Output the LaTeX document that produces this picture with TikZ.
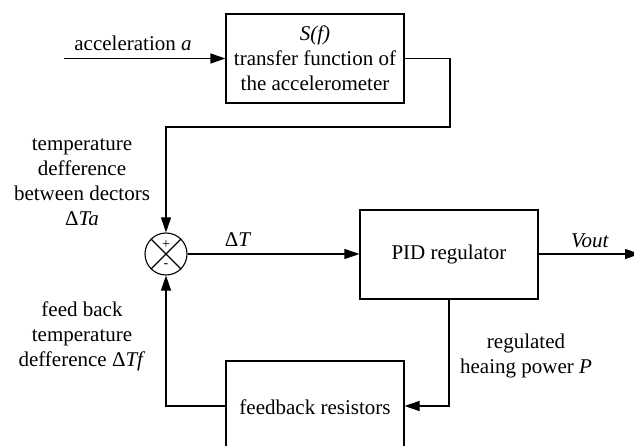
\documentclass[tikz,border=0pt]{standalone}
\usepackage{fontspec}
\setmainfont{Liberation Serif}
\usetikzlibrary{arrows.meta}
\begin{document}
\begin{tikzpicture}[x=1pt,y=-1pt,
  line width=1.1pt,
  font=\fontsize{21}{25}\selectfont,
  blockbox/.style={draw, minimum width=178pt, inner sep=0pt, align=center},
  lbl/.style={inner sep=0pt, align=center},
  arr/.style={-{Triangle[length=15pt,width=10pt]}}]
\useasboundingbox (0,0) rectangle (634,446);
\clip (0,0) rectangle (634,446);
\node[blockbox, minimum height=89pt] (S) at (315,58.5) {\textit{S(f)}\\transfer function of\\the accelerometer};
\node[blockbox, minimum height=89pt] (PID) at (449,254.5) {PID regulator};
\node[blockbox, minimum height=92pt] (FB) at (315,407) {feedback resistors};
\node[draw, circle, minimum size=42pt, inner sep=0pt] (sum) at (166,254) {};
\draw (sum.north east) -- (sum.south west) (sum.north west) -- (sum.south east);
\node[lbl, font=\fontsize{14}{14}\selectfont] (plus) at (166,245) {+};
\node[lbl, font=\fontsize{14}{14}\selectfont] (minus) at (166,266) {-};
% coordinates
\coordinate (in) at (64,58.5);
\coordinate (s1) at (450,58.5);
\coordinate (s2) at (450,127);
\coordinate (s3) at (166,127);
\coordinate (out) at (640,254);
\coordinate (p1) at (449,406);
\coordinate (f1) at (166,406);
% connectors
\draw[arr] (in) -- (S.west);
\draw[arr] (S.east) -- (s1) -- (s2) -- (s3) -- (sum.north);
\draw[arr] (sum.east) -- (sum.east -| PID.west);
\draw[arr] (PID.east |- out) -- (out);
\draw[arr] (PID.south) -- (p1) -- (p1 -| FB.east);
\draw[arr] (FB.west |- f1) -- (f1) -- (sum.south);
% labels
\node[lbl] (la) at (133,43) {acceleration \textit{a}};
\node[lbl] (lTa) at (82,182) {temperature\\defference\\between dectors\\Δ\textit{Ta}};
\node[lbl] (lT) at (238,240) {Δ\textit{T}};
\node[lbl] (lV) at (590,241) {\textit{Vout}};
\node[lbl] (lTf) at (82,336) {feed back\\temperature\\defference Δ\textit{Tf}};
\node[lbl] (lP) at (526,356) {regulated\\heaing power \textit{P}};
\end{tikzpicture}
\end{document}
